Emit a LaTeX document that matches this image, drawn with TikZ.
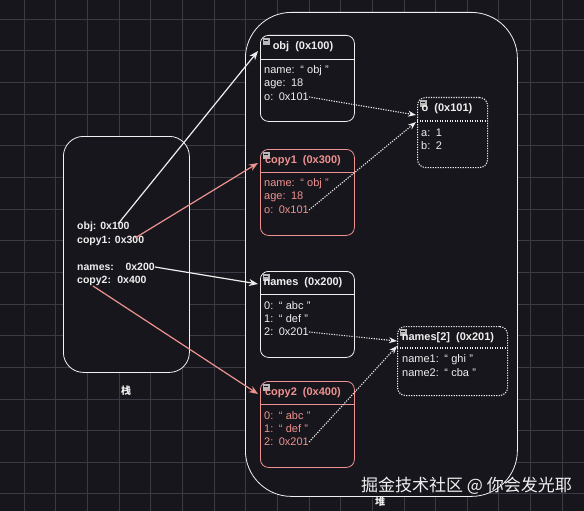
\documentclass[tikz,border=0pt]{standalone}
\usepackage{fontspec}
\setmainfont{Liberation Sans}
\newfontfamily\cjk{Noto Sans CJK SC}
\usetikzlibrary{arrows.meta}
\definecolor{bg}{HTML}{18161D}
\definecolor{gridc}{HTML}{3C3A45}
\definecolor{fg}{HTML}{EEEEEE}
\definecolor{salmon}{HTML}{EE928F}
\definecolor{iconc}{HTML}{B8B8B8}
\newcommand{\cl}{:\hspace{0.5em}}
\newcommand{\qt}[1]{“\hspace{0.3em}#1\hspace{0.3em}”}
\begin{document}
\begin{tikzpicture}[x=1pt,y=-1pt,
  frame/.style={draw=#1, line width=0.8pt, fill=bg, inner sep=0pt, anchor=north west},
  membox/.style={frame=#1, rounded corners=8pt, minimum width=94pt, minimum height=86pt},
  dotbox/.style={draw=fg, line width=1.1pt, dash pattern=on 1.2pt off 1.3pt, fill=bg, rounded corners=8pt, inner sep=0pt, anchor=north west},
  ttl/.style={font=\fontsize{11}{13}\selectfont\bfseries, inner sep=0pt, text=#1},
  bodytxt/.style={font=\fontsize{11}{13}\selectfont, inner sep=0pt, anchor=west, text=#1},
  stk/.style={font=\fontsize{10.5}{12}\selectfont\bfseries, inner sep=0pt, anchor=west, text=fg},
  icon/.style={fill=iconc, draw=none, minimum size=6.5pt, inner sep=0pt, anchor=north west},
  conn/.style={draw=#1, line width=1.2pt, -{Stealth[length=9pt,width=7pt]}},
  dotconn/.style={draw=fg, line width=1.1pt, dash pattern=on 1.2pt off 1.3pt, -{Stealth[length=8pt,width=6pt]}},
]
\fill[bg] (0,0) rectangle (584,511);
\useasboundingbox (0,0) rectangle (584,511);
% grid
\foreach \i in {0,...,18} {
  \draw[gridc, line width=0.6pt] ({24+31.65*\i},0) -- ({24+31.65*\i},511);
}
\foreach \j in {0,...,15} {
  \draw[gridc, line width=0.6pt] (0,{19+31.65*\j}) -- (584,{19+31.65*\j});
}

% containers
\node[frame=fg!80, rounded corners=20pt, minimum width=126pt, minimum height=236pt] (stack) at (63,136) {};
\node[frame=fg!80, rounded corners=46pt, minimum width=272pt, minimum height=484pt] (heap) at (245,12) {};
\node[font=\cjk\fontsize{10}{12}\selectfont\bfseries, text=fg, inner sep=0pt] (stacklbl) at (126,391) {栈};

% stack variables
\node[stk] (sobj) at (77,227) {obj: 0x100};
\node[stk] (scopy1) at (77,241) {copy1: 0x300};
\node[stk] (snames) at (77,267) {names:\hspace{1.1em}0x200};
\node[stk] (scopy2) at (77,281) {copy2:\hspace{0.6em}0x400};
\coordinate (sobjout) at (118,224);
\coordinate (scopy1out) at (135,238);
\coordinate (scopy2out) at (93,286);

% obj box
\node[membox=fg] (obj) at (260,35) {};
\draw[fg, line width=0.8pt] (260,59) -- (354,59);
\node[icon] (objicon) at (263,38) {};
\draw[bg, line width=0.8pt] (264.2,40.5) -- (268.3,40.5);
\node[ttl=fg] (objt) at (303,47) {obj\hspace{0.55em}(0x100)};
\node[bodytxt=fg] (objn) at (264,71) {name\cl\qt{obj}};
\node[bodytxt=fg] (obja) at (264,84) {age\cl18};
\node[bodytxt=fg] (objo) at (264,97) {o\cl0x101};

% copy1 box
\node[membox=salmon] (copy1) at (260,149) {};
\draw[salmon, line width=0.8pt] (260,172) -- (354,172);
\node[icon] (c1icon) at (263,152) {};
\draw[bg, line width=0.8pt] (264.2,154.5) -- (268.3,154.5);
\node[ttl=salmon] (c1t) at (303,161) {copy1\hspace{0.55em}(0x300)};
\node[bodytxt=salmon] (c1n) at (264,184) {name\cl\qt{obj}};
\node[bodytxt=salmon] (c1a) at (264,197) {age\cl18};
\node[bodytxt=salmon] (c1o) at (264,210) {o\cl0x101};

% names box
\node[membox=fg] (names) at (260,271) {};
\draw[fg, line width=0.8pt] (260,294) -- (354,294);
\node[icon] (nicon) at (263,274) {};
\draw[bg, line width=0.8pt] (264.2,276.5) -- (268.3,276.5);
\node[ttl=fg] (nt) at (303,283) {names\hspace{0.55em}(0x200)};
\node[bodytxt=fg] (n0) at (264,306) {0\cl\qt{abc}};
\node[bodytxt=fg] (n1) at (264,319) {1\cl\qt{def}};
\node[bodytxt=fg] (n2) at (264,332) {2\cl0x201};

% copy2 box
\node[membox=salmon] (copy2) at (260,381) {};
\draw[salmon, line width=0.8pt] (260,404) -- (354,404);
\node[icon] (c2icon) at (263,384) {};
\draw[bg, line width=0.8pt] (264.2,386.5) -- (268.3,386.5);
\node[ttl=salmon] (c2t) at (303,393) {copy2\hspace{0.55em}(0x400)};
\node[bodytxt=salmon] (c20) at (264,416) {0\cl\qt{abc}};
\node[bodytxt=salmon] (c21) at (264,429) {1\cl\qt{def}};
\node[bodytxt=salmon] (c22) at (264,442) {2\cl0x201};

% o box
\node[dotbox, minimum width=70pt, minimum height=70pt] (obox) at (417,97) {};
\draw[fg, line width=1.1pt, dash pattern=on 1.2pt off 1.3pt] (417,121) -- (487,121);
\node[icon] (oicon) at (420,100) {};
\draw[bg, line width=0.8pt] (421.2,102.5) -- (425.3,102.5);
\node[ttl=fg] (ot) at (447,109) {o\hspace{0.55em}(0x101)};
\node[bodytxt=fg] (oa) at (421,133) {a\cl1};
\node[bodytxt=fg] (ob) at (421,146) {b\cl2};

% names[2] box
\node[dotbox, minimum width=110pt, minimum height=69pt] (n2box) at (397,326) {};
\draw[fg, line width=1.1pt, dash pattern=on 1.2pt off 1.3pt] (397,348) -- (507,348);
\node[icon] (n2icon) at (400,329) {};
\draw[bg, line width=0.8pt] (401.2,331.5) -- (405.3,331.5);
\node[ttl=fg] (n2t) at (448,338) {names[2]\hspace{0.55em}(0x201)};
\node[bodytxt=fg] (n2a) at (402,360) {name1\cl\qt{ghi}};
\node[bodytxt=fg] (n2b) at (402,373) {name2\cl\qt{cba}};

% entry points
\coordinate (objin) at (258,51);
\coordinate (copy1in) at (258,163);
\coordinate (namesin) at (258,284);
\coordinate (copy2in) at (258,394);
\coordinate (oin1) at (416,115);
\coordinate (oin2) at (416,122);
\coordinate (n2in1) at (397,341);
\coordinate (n2in2) at (397,346);

% connectors
\draw[conn=fg] (sobjout) -- (objin);
\draw[conn=salmon] (scopy1out) -- (copy1in);
\draw[conn=fg] (snames.east) -- (namesin);
\draw[conn=salmon] (scopy2out) -- (copy2in);
\draw[dotconn] (objo.east) -- (oin1);
\draw[dotconn] (c1o.east) -- (oin2);
\draw[dotconn] (n2.east) -- (n2in1);
\draw[dotconn] (c22.east) -- (n2in2);

% labels
\node[font=\cjk\fontsize{10}{12}\selectfont\bfseries, text=fg, inner sep=0pt] (heaplbl) at (380,502) {堆};
\node[font=\cjk\fontsize{17}{20}\selectfont, text=fg!85, inner sep=0pt, anchor=east] (wm) at (572,486) {掘金技术社区 @ 你会发光耶};
\end{tikzpicture}
\end{document}
